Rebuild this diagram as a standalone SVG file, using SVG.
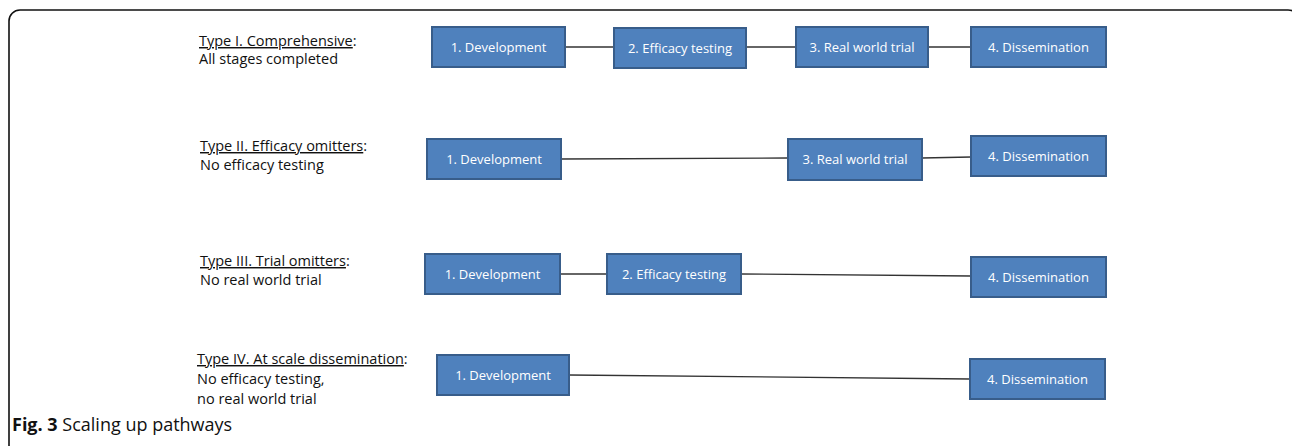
<svg xmlns="http://www.w3.org/2000/svg" width="1292" height="446" viewBox="0 0 1292 446">
<style>
.box{fill:#4F81BD;stroke:#385D8A;stroke-width:2}
.bt{font-family:"Open Sans","Liberation Sans",sans-serif;font-size:13px;fill:#fff;text-anchor:middle}
.lb{font-family:"Open Sans","Liberation Sans",sans-serif;font-size:14.5px;fill:#111}
.u{text-decoration:underline}
.con line{stroke:#333;stroke-width:1.3}
</style>
<rect width="1292" height="446" fill="#fff"/>
<rect x="9" y="10" width="1290" height="500" rx="11" fill="none" stroke="#111" stroke-width="1.6"/>
<g id="connectors" class="con">
<line x1="565" y1="47" x2="614" y2="47"/>
<line x1="746" y1="47" x2="796" y2="47"/>
<line x1="928" y1="47" x2="971" y2="47"/>
<line x1="561" y1="159" x2="788" y2="158"/>
<line x1="922" y1="158" x2="971" y2="157"/>
<line x1="560" y1="274" x2="607" y2="274"/>
<line x1="741" y1="274" x2="971" y2="276"/>
<line x1="569" y1="375" x2="970" y2="379"/>
</g>
<g id="label1"><text class="lb" x="199" y="46"><tspan class="u">Type I. Comprehensive</tspan>:</text><text class="lb" x="199" y="64">All stages completed</text></g>
<g id="label2"><text class="lb" x="200" y="151"><tspan class="u">Type II. Efficacy omitters</tspan>:</text><text class="lb" x="200" y="170">No efficacy testing</text></g>
<g id="label3"><text class="lb" x="200" y="266"><tspan class="u">Type III. Trial omitters</tspan>:</text><text class="lb" x="200" y="285">No real world trial</text></g>
<g id="label4"><text class="lb" x="197" y="364"><tspan class="u">Type IV. At scale dissemination</tspan>:</text><text class="lb" x="197" y="384">No efficacy testing,</text><text class="lb" x="197" y="404">no real world trial</text></g>
<g id="r1n1"><rect class="box" x="432" y="27" width="133" height="40"/><text class="bt" x="498.5" y="51.5">1. Development</text></g>
<g id="r1n2"><rect class="box" x="614" y="28" width="132" height="40"/><text class="bt" x="680" y="52.5">2. Efficacy testing</text></g>
<g id="r1n3"><rect class="box" x="796" y="27" width="132" height="40"/><text class="bt" x="862" y="51.5">3. Real world trial</text></g>
<g id="r1n4"><rect class="box" x="971" y="27" width="135" height="40"/><text class="bt" x="1038.5" y="51.5">4. Dissemination</text></g>
<g id="r2n1"><rect class="box" x="427" y="139" width="134" height="40"/><text class="bt" x="494" y="163.5">1. Development</text></g>
<g id="r2n3"><rect class="box" x="788" y="139" width="134" height="41"/><text class="bt" x="855" y="164">3. Real world trial</text></g>
<g id="r2n4"><rect class="box" x="971" y="136" width="135" height="40"/><text class="bt" x="1038.5" y="160.5">4. Dissemination</text></g>
<g id="r3n1"><rect class="box" x="425" y="254" width="135" height="40"/><text class="bt" x="492.5" y="278.5">1. Development</text></g>
<g id="r3n2"><rect class="box" x="607" y="254" width="134" height="40"/><text class="bt" x="674" y="278.5">2. Efficacy testing</text></g>
<g id="r3n4"><rect class="box" x="971" y="257" width="135" height="40"/><text class="bt" x="1038.5" y="281.5">4. Dissemination</text></g>
<g id="r4n1"><rect class="box" x="437" y="355" width="132" height="40"/><text class="bt" x="503" y="379.5">1. Development</text></g>
<g id="r4n4"><rect class="box" x="970" y="359" width="135" height="40"/><text class="bt" x="1037.5" y="383.5">4. Dissemination</text></g>
<text x="12" y="431" font-family="'Open Sans','Liberation Sans',sans-serif" font-size="18" fill="#111"><tspan font-weight="bold">Fig. 3</tspan> Scaling up pathways</text>
</svg>
